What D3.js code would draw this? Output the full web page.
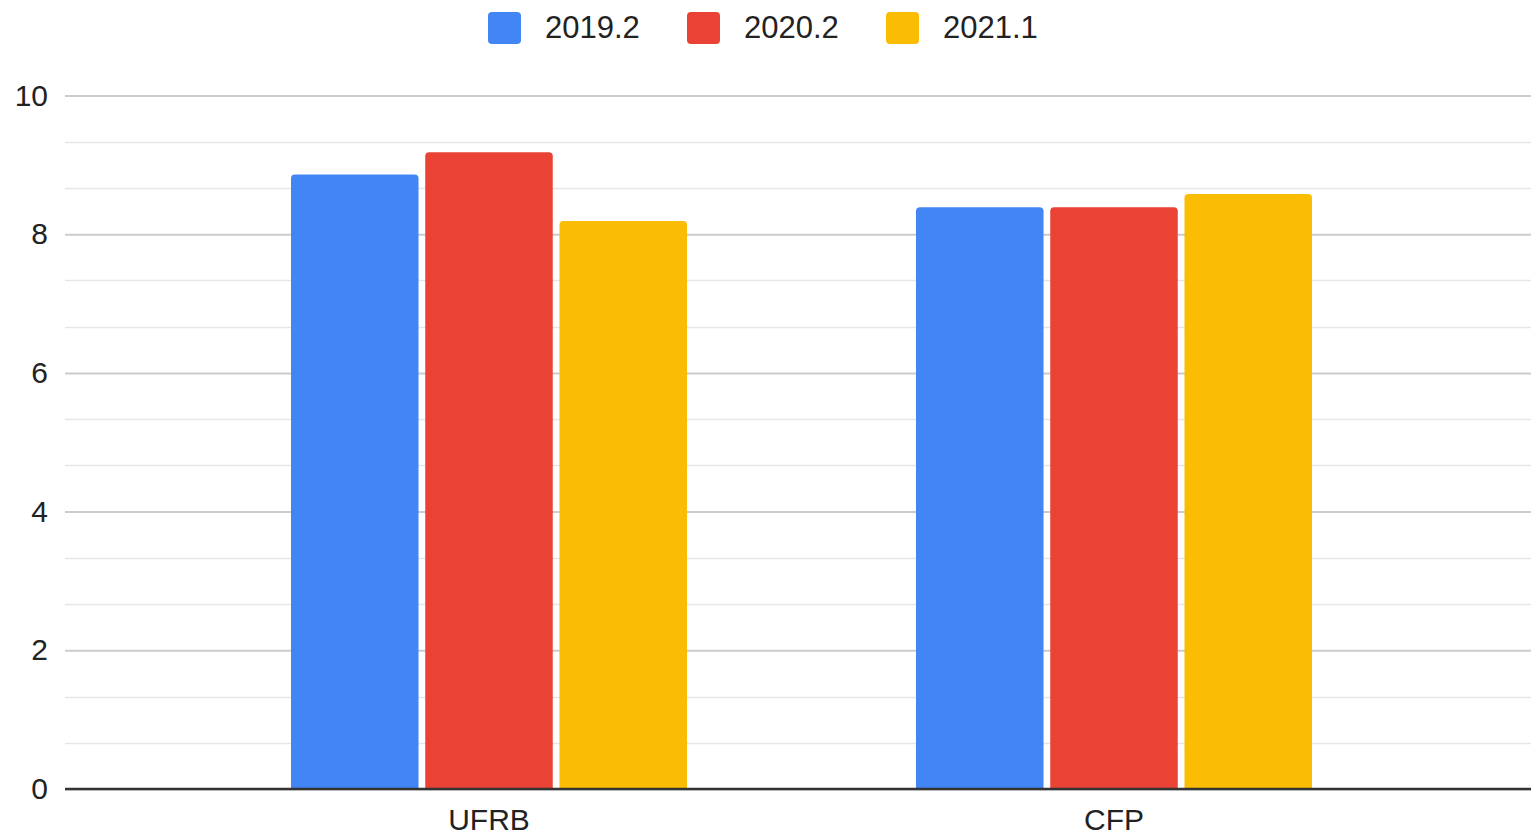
<!DOCTYPE html>
<html><head><meta charset="utf-8">
<script src="https://cdn.jsdelivr.net/npm/d3@7"></script>
<style>
html,body{margin:0;padding:0;background:#fff;}
svg{display:block;font-family:"Liberation Sans",Arial,sans-serif;}
</style></head>
<body>
<svg id="chart" width="1531" height="835"></svg>
<script>
const categories = ["UFRB", "CFP"];
const seriesNames = ["2019.2", "2020.2", "2021.1"];
const seriesColors = ["#4285F4", "#EA4335", "#FBBC04"];
const values2019_2 = [8.86, 8.39];
const values2020_2 = [9.18, 8.39];
const values2021_1 = [8.19, 8.58];
const yTicks = [0, 2, 4, 6, 8, 10];

const seriesValues = [values2019_2, values2020_2, values2021_1];
const svg = d3.select("#chart");
const W = 1531;
const plotLeft = 65, plotRight = 1531;

const y = d3.scaleLinear().domain([0, 10]).range([789, 95.5]);
const x0 = d3.scaleBand().domain(categories).range([176.5, 1426.5]).paddingInner(0.3664).paddingOuter(0.1832);
const x1 = d3.scaleBand().domain(seriesNames).range([0, x0.bandwidth()]).paddingInner(0.05);

// minor gridlines
const minor = d3.range(0, 10.001, 2/3).filter(v => Math.abs(v - Math.round(v/2)*2) > 0.01);
svg.append("g").selectAll("line").data(minor).join("line")
  .attr("x1", plotLeft).attr("x2", plotRight)
  .attr("y1", d => Math.round(y(d)) + 0.5).attr("y2", d => Math.round(y(d)) + 0.5)
  .attr("stroke", "#e6e6e6").attr("stroke-width", 1.5);

// y axis with major gridlines
const yAxis = d3.axisLeft(y).tickValues(yTicks).tickSize(-(plotRight - plotLeft)).tickPadding(17);
const gy = svg.append("g").attr("transform", `translate(${plotLeft},0)`).call(yAxis);
gy.select(".domain").remove();
gy.selectAll(".tick line").attr("stroke", "#cccccc").attr("stroke-width", 2);
gy.selectAll(".tick text").attr("font-size", 30).attr("fill", "#222").attr("font-family", "Liberation Sans, Arial, sans-serif");

// bars
const r = 4;
function barPath(xx, yy, w, h) {
  return `M${xx},${yy + h}V${yy + r}Q${xx},${yy} ${xx + r},${yy}H${xx + w - r}Q${xx + w},${yy} ${xx + w},${yy + r}V${yy + h}Z`;
}
const groups = svg.append("g").selectAll("g").data(categories).join("g")
  .attr("transform", d => `translate(${x0(d)},0)`);
groups.selectAll("path").data((c, ci) => seriesNames.map((s, si) => ({s, si, v: seriesValues[si][ci]})))
  .join("path")
  .attr("d", d => barPath(x1(d.s), y(d.v), x1.bandwidth(), y(0) - y(d.v)))
  .attr("fill", d => seriesColors[d.si]);

// x axis baseline
const xAxis = d3.axisBottom(x0).tickSize(0).tickPadding(20);
const gx = svg.append("g").attr("transform", `translate(0,${y(0)})`).call(xAxis);
gx.select(".domain").remove();
gx.selectAll(".tick text").attr("font-size", 30).attr("fill", "#222").attr("font-family", "Liberation Sans, Arial, sans-serif");
svg.append("line").attr("x1", plotLeft).attr("x2", plotRight)
  .attr("y1", y(0)).attr("y2", y(0)).attr("stroke", "#333").attr("stroke-width", 2.5);

// legend
const legend = svg.append("g");
const itemX = d3.scalePoint().domain(seriesNames).range([488, 886]);
const li = legend.selectAll("g").data(seriesNames).join("g")
  .attr("transform", d => `translate(${itemX(d)},0)`);
li.append("rect").attr("x", 0).attr("y", 12).attr("width", 33).attr("height", 32).attr("rx", 4)
  .attr("fill", (d, i) => seriesColors[i]);
li.append("text").attr("x", 57).attr("y", 38).attr("font-size", 31).attr("fill", "#222")
  .text(d => d);
</script>
</body></html>
